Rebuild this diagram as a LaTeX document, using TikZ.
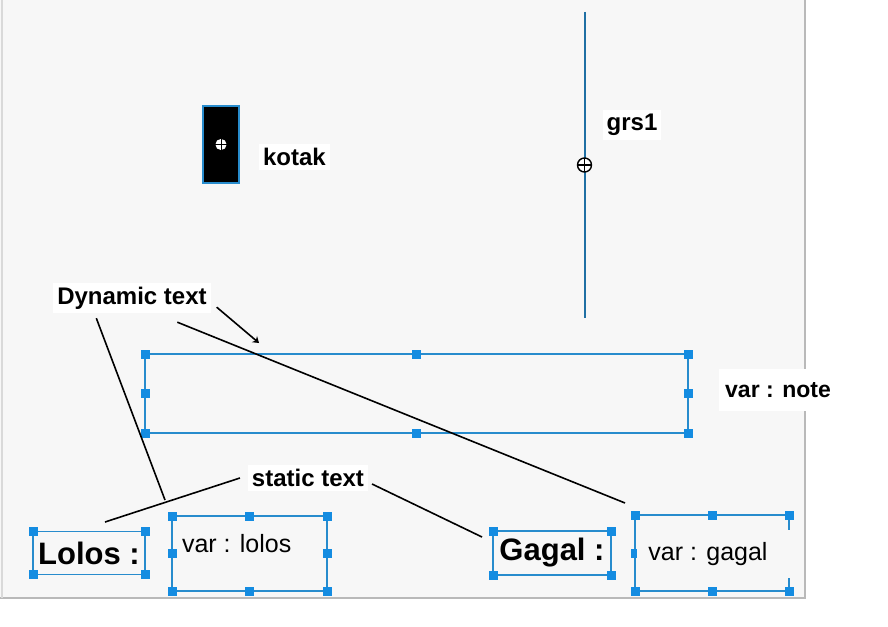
\documentclass[tikz,border=0pt]{standalone}
\usepackage{fontspec}
\setmainfont{Liberation Sans}
\usetikzlibrary{positioning,arrows.meta}
\definecolor{selblue}{RGB}{40,140,205}
\definecolor{gripblue}{RGB}{20,140,225}
\definecolor{panelgray}{RGB}{247,247,247}

\begin{document}
\begin{tikzpicture}[x=0.5pt, y=-0.5pt, every node/.style={outer sep=0pt},
    selbox/.style={draw=selblue, line width=0.9pt, inner sep=0pt},
    grip/.style={fill=gripblue, minimum size=4.5pt, inner sep=0pt},
    lbl/.style={font=\bfseries\fontsize{12}{14}\selectfont, fill=white, inner sep=2pt},
    vartxt/.style={font=\fontsize{12.5}{15}\selectfont, inner sep=1pt},
    bigtxt/.style={font=\bfseries\fontsize{15.5}{18}\selectfont},
    callout/.style={black, line width=0.8pt}]
    % canvas of the form editor
    \useasboundingbox (0,0) rectangle (888,626);
    \fill[white] (0,0) rectangle (888,626);
    \fill[panelgray] (0,0) rectangle (805,598);
    \draw[gray!55, line width=1pt] (805,0) -- (805,598) -- (0,598);
    \draw[gray!30, line width=0.6pt] (2,0) -- (2,598);

    % black box object with its pivot mark
    \node[draw=selblue, fill=black, line width=0.6pt, minimum width=18pt,
          minimum height=38.5pt] (kotak) at (221,144.5) {};
    \fill[white] (kotak.center) circle (2.8pt);
    \draw[black, line width=0.5pt] (kotak.center) +(-2.8pt,0) -- +(2.8pt,0)
                                   (kotak.center) +(0,-2.8pt) -- +(0,2.8pt);
    \node[lbl, right=10pt of kotak, yshift=-6.25pt] (kotak-lbl) {kotak};

    % vertical line object
    \coordinate (grs-top) at (584.5,12);
    \coordinate (grs-bot) at (584.5,318);
    \coordinate (grs-pivot) at (584.5,165);
    \draw[selblue!80!black, line width=1pt] (grs-top) -- (grs-bot);
    \draw[black, fill=white, line width=0.7pt] (grs-pivot) circle (3.5pt);
    \draw[black, line width=0.6pt] (grs-pivot) +(-3.5pt,0) -- +(3.5pt,0)
                                   (grs-pivot) +(0,-3.5pt) -- +(0,3.5pt);
    \node[lbl] (grs-lbl) at (632,125) {grs1};

    % dynamic text field (note)
    \node[selbox, minimum width=271.5pt, minimum height=39.5pt] (note) at (416.5,393.5) {};
    \node[lbl, font=\bfseries\fontsize{11.5}{14}\selectfont, minimum height=21pt,
          inner xsep=3pt] (note-lbl) at (778,390) {var : note};

    % static and dynamic text fields at the bottom
    \node[selbox, minimum width=56pt, minimum height=21.5pt, bigtxt] (lolos) at (89,553) {Lolos :};
    \node[selbox, minimum width=77.5pt, minimum height=37.5pt] (lolosvar) at (249.5,553.5) {};
    \node[vartxt, anchor=west] (lolosvar-txt) at (180,544) {var : lolos};
    \node[selbox, minimum width=59pt, minimum height=22pt, bigtxt] (gagal) at (552,553) {Gagal :};
    \node[selbox, minimum width=77pt, minimum height=38pt] (gagalvar) at (712,553) {};

    % selection handles
    \foreach \obj in {note, lolosvar, gagalvar}
        \foreach \a/\n in {north west/nw, north/n, north east/ne, east/e,
                           south east/se, south/s, south west/sw, west/w}
            \node[grip] (\obj-\n) at (\obj.\a) {};
    \foreach \obj in {lolos, gagal}
        \foreach \a/\n in {north west/nw, north east/ne, south east/se, south west/sw}
            \node[grip] (\obj-\n) at (\obj.\a) {};
    \node[vartxt, fill=panelgray, minimum width=80pt, minimum height=24pt]
          (gagalvar-txt) at (717,554) {var : gagal\hspace*{9pt}};

    % callouts
    \node[lbl] (dyn) at (132,298) {Dynamic text};
    \node[lbl] (stat) at (308,478) {static text};
    \coordinate (dyn-foot) at (165,500);
    \coordinate (dyn-end) at (625,503);
    \coordinate (dyn-tip) at (259,343);
    \coordinate (stat-left) at (105,522);
    \coordinate (stat-right) at (482,537);
    \draw[callout] ([xshift=21.5pt,yshift=-2.5pt]dyn.south west) -- (dyn-foot);
    \draw[callout] ([xshift=62pt,yshift=-4.5pt]dyn.south west) -- (dyn-end);
    \draw[callout, -{Stealth[length=3pt,width=4pt]}] ([xshift=3pt,yshift=3pt]dyn.south east) -- (dyn-tip);
    \draw[callout] ([xshift=-4pt]stat.west) -- (stat-left);
    \draw[callout] ([xshift=2pt,yshift=-3pt]stat.east) -- (stat-right);
\end{tikzpicture}
\end{document}
